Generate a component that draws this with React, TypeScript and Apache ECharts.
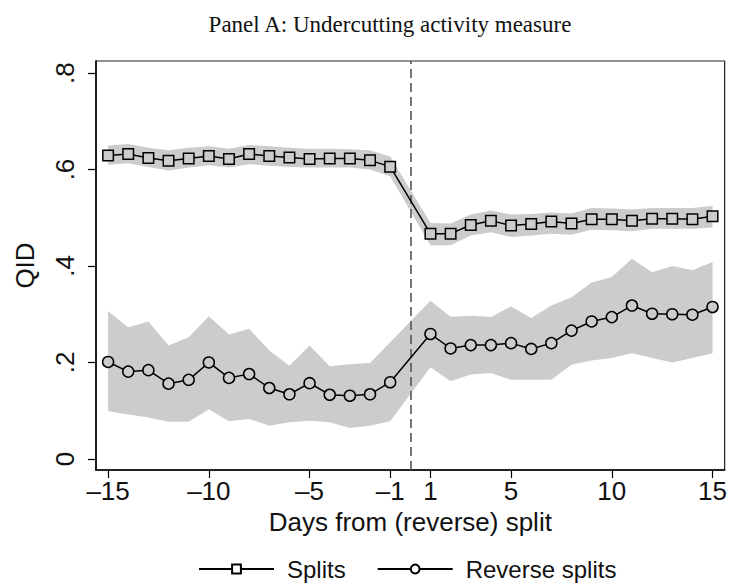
import React, { useEffect, useRef } from "react";
import * as echarts from "echarts";

const days = [-15, -14, -13, -12, -11, -10, -9, -8, -7, -6, -5, -4, -3, -2, -1, 1, 2, 3, 4, 5, 6, 7, 8, 9, 10, 11, 12, 13, 14, 15];

const splitsMean = [0.629, 0.632, 0.624, 0.618, 0.623, 0.628, 0.622, 0.632, 0.628, 0.625, 0.622, 0.623, 0.623, 0.619, 0.606,
  0.467, 0.467, 0.485, 0.494, 0.484, 0.487, 0.492, 0.488, 0.497, 0.497, 0.494, 0.498, 0.498, 0.497, 0.503];
const splitsUpper = [0.650, 0.653, 0.645, 0.640, 0.645, 0.648, 0.643, 0.651, 0.648, 0.645, 0.643, 0.643, 0.642, 0.640, 0.627,
  0.489, 0.488, 0.507, 0.515, 0.507, 0.508, 0.511, 0.509, 0.520, 0.519, 0.517, 0.520, 0.520, 0.520, 0.525];
const splitsLower = [0.610, 0.613, 0.605, 0.598, 0.604, 0.609, 0.604, 0.611, 0.608, 0.605, 0.604, 0.604, 0.604, 0.600, 0.586,
  0.443, 0.443, 0.463, 0.470, 0.460, 0.463, 0.467, 0.465, 0.475, 0.474, 0.472, 0.477, 0.477, 0.477, 0.480];

const reverseMean = [0.201, 0.181, 0.184, 0.156, 0.164, 0.200, 0.168, 0.176, 0.147, 0.134, 0.157, 0.133, 0.131, 0.134, 0.159,
  0.259, 0.229, 0.236, 0.236, 0.240, 0.228, 0.240, 0.266, 0.285, 0.294, 0.318, 0.301, 0.300, 0.299, 0.315];
const reverseUpper = [0.306, 0.273, 0.285, 0.235, 0.252, 0.296, 0.258, 0.270, 0.225, 0.193, 0.235, 0.192, 0.196, 0.199, 0.242,
  0.328, 0.295, 0.297, 0.294, 0.316, 0.292, 0.318, 0.335, 0.366, 0.377, 0.415, 0.387, 0.400, 0.391, 0.408];
const reverseLower = [0.099, 0.092, 0.086, 0.077, 0.077, 0.103, 0.078, 0.083, 0.069, 0.076, 0.079, 0.076, 0.064, 0.069, 0.078,
  0.190, 0.161, 0.175, 0.178, 0.164, 0.164, 0.164, 0.195, 0.204, 0.209, 0.219, 0.209, 0.200, 0.209, 0.219];

const xTicks = [-15, -10, -5, -1, 1, 5, 10, 15];
const yTicks = [0, 0.2, 0.4, 0.6, 0.8];

const TITLE = "Panel A: Undercutting activity measure";
const X_NAME = "Days from (reverse) split";
const Y_NAME = "QID";

const BAND = "#cccccc";
const SANS = "'Liberation Sans', Arial, Helvetica, sans-serif";

const pairs = (ys: number[]) => days.map((d, i) => [d, ys[i]]);

export default function App() {
  const ref = useRef<HTMLDivElement>(null);
  useEffect(() => {
    if (!ref.current) return;
    const chart = echarts.init(ref.current, undefined, { renderer: "svg" });
    const bandSeries = (name: string, hi: number[], lo: number[]) => ({
      type: "custom",
      name,
      silent: true,
      z: 1,
      data: days.map((d, i) => [d, lo[i], hi[i]]),
      encode: { x: 0, y: [1, 2] },
      renderItem: (params: any, api: any) => {
        if (params.dataIndex !== 0) return null;
        const top = days.map((d, i) => api.coord([d, hi[i]]));
        const bottom = days.map((d, i) => api.coord([d, lo[i]])).reverse();
        return {
          type: "polygon",
          shape: { points: top.concat(bottom) },
          style: { fill: BAND, stroke: "none" },
        };
      },
    });
    chart.setOption({
      animation: false,
      backgroundColor: "#ffffff",
      title: {
        text: TITLE,
        left: 385, top: 8, textAlign: "center",
        textStyle: { fontFamily: "'Liberation Serif', 'DejaVu Serif', serif", fontSize: 23, fontWeight: "normal", color: "#111" },
      },
      grid: { left: 96, right: 4, top: 61, bottom: 117, show: true, borderColor: "#222", borderWidth: 1.2, containLabel: false },
      legend: {
        left: 193, top: 552, itemWidth: 75, itemHeight: 11, itemGap: 31,
        textStyle: { fontFamily: SANS, fontSize: 24, color: "#111", padding: [0, 0, 0, 8] },
        data: [
          { name: "Splits", itemStyle: { color: "#fff" } },
          { name: "Reverse splits", itemStyle: { color: "#fff" } },
        ],
      },
      xAxis: {
        type: "value", min: -15.6, max: 15.6,
        name: X_NAME, nameLocation: "middle", nameGap: 37,
        nameTextStyle: { fontFamily: SANS, fontSize: 26, color: "#111" },
        axisLine: { onZero: false, lineStyle: { color: "#000", width: 1.5 } },
        axisTick: { show: true, length: 8, customValues: xTicks, lineStyle: { color: "#000", width: 1.2 } },
        axisLabel: {
          customValues: xTicks, margin: 8, fontFamily: SANS, fontSize: 26, color: "#111",
          formatter: (v: number) => (v < 0 ? "\u2013" + Math.abs(v) : String(v)),
        },
        splitLine: { show: false },
      },
      yAxis: {
        type: "value", min: -0.023, max: 0.825,
        name: Y_NAME, nameLocation: "middle", nameGap: 58, nameRotate: 90,
        nameTextStyle: { fontFamily: SANS, fontSize: 26, color: "#111" },
        axisLine: { show: true, onZero: false, lineStyle: { color: "#000", width: 1.5 } },
        axisTick: { show: true, length: 8, customValues: yTicks, lineStyle: { color: "#000", width: 1.2 } },
        axisLabel: {
          customValues: yTicks, rotate: 90, margin: 18, fontFamily: SANS, fontSize: 26, color: "#111",
          formatter: (v: number) => (v === 0 ? "0" : String(v).replace(/^0\./, ".")),
        },
        splitLine: { show: false },
      },
      series: [
        bandSeries("splitsBand", splitsUpper, splitsLower),
        bandSeries("reverseBand", reverseUpper, reverseLower),
        {
          type: "line", name: "Splits", data: pairs(splitsMean), symbol: "rect", symbolSize: 10.5, z: 5,
          lineStyle: { color: "#000", width: 1.5 },
          itemStyle: { color: BAND, borderColor: "#000", borderWidth: 1.5 },
          markLine: {
            silent: true, symbol: "none", label: { show: false },
            lineStyle: { color: "#555", type: [9, 5], width: 1.6 },
            data: [{ xAxis: 0 }],
          },
        },
        {
          type: "line", name: "Reverse splits", data: pairs(reverseMean), symbol: "circle", symbolSize: 11, z: 5,
          lineStyle: { color: "#000", width: 1.5 },
          itemStyle: { color: BAND, borderColor: "#000", borderWidth: 1.5 },
        },
      ],
    });
    return () => chart.dispose();
  }, []);
  return <div ref={ref} style={{ width: 730, height: 587, position: "absolute", left: 0, top: 0 }} />;
}
